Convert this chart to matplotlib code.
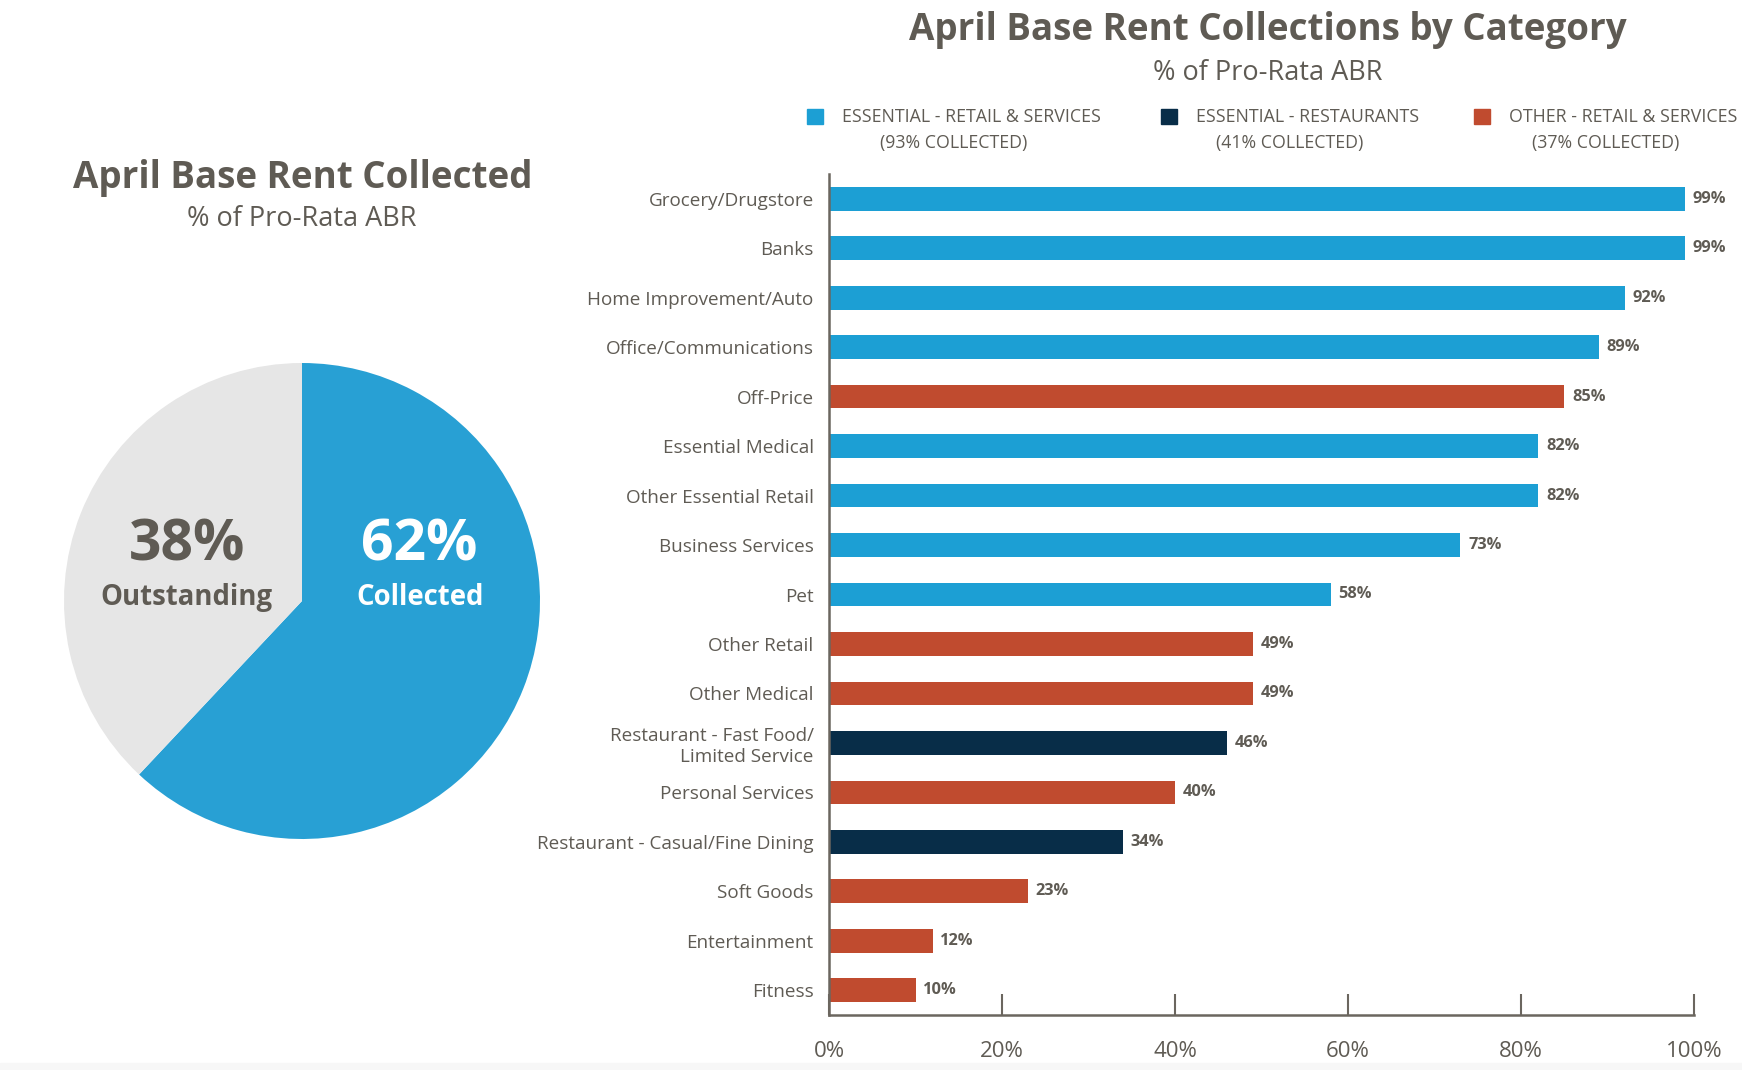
import matplotlib.pyplot as plt
from matplotlib.patches import Rectangle

# data
categories = ["Grocery/Drugstore", "Banks", "Home Improvement/Auto",
              "Office/Communications", "Off-Price", "Essential Medical",
              "Other Essential Retail", "Business Services", "Pet",
              "Other Retail", "Other Medical",
              "Restaurant - Fast Food/\nLimited Service", "Personal Services",
              "Restaurant - Casual/Fine Dining", "Soft Goods", "Entertainment",
              "Fitness"]
values = [99, 99, 92, 89, 85, 82, 82, 73, 58, 49, 49, 46, 40, 34, 23, 12, 10]
groups = [0, 0, 0, 0, 2, 0, 0, 0, 0, 2, 2, 1, 2, 1, 2, 2, 2]
group_names = ["ESSENTIAL - RETAIL & SERVICES", "ESSENTIAL - RESTAURANTS",
               "OTHER - RETAIL & SERVICES"]
group_collected = [93, 41, 37]
pie_labels = ["Collected", "Outstanding"]
pie_values = [62, 38]
x_ticks = [0, 20, 40, 60, 80, 100]

# styles
TXT = "#5f5b54"
group_colors = ["#1c9fd4", "#082d48", "#c04b2f"]
pie_colors = ["#28a0d4", "#e6e6e6"]
W, H = 1742, 1070

plt.rcParams["font.family"] = ["Open Sans", "DejaVu Sans"]
fig = plt.figure(figsize=(W / 100, H / 100), dpi=100)
fig.patches.append(Rectangle((0, 0), 1, 7 / H, transform=fig.transFigure,
                             color="#f7f7f7", zorder=0))

# ---- pie ----
cx, cy, r = 302, 601, 240
axp = fig.add_axes([(cx - r) / W, 1 - (cy + r) / H, 2 * r / W, 2 * r / H])
axp.pie(pie_values, colors=pie_colors, startangle=90, counterclock=False,
        radius=238 / 240, wedgeprops=dict(linewidth=0))
axp.set_xlim(-1, 1)
axp.set_ylim(-1, 1)
axp.set_aspect("equal")
axp.axis("off")
for (px, lab, val, col) in [(0.49, pie_labels[0], pie_values[0], "white"),
                            (-0.48, pie_labels[1], pie_values[1], TXT)]:
    axp.text(px, 0.23, f"{val}%", ha="center", va="center", color=col,
             fontsize=41, fontweight="bold")
    axp.text(px, 0.015, lab, ha="center", va="center", color=col,
             fontsize=19.8, fontweight="bold")

fig.text(303 / W, 1 - 178 / H, "April Base Rent Collected", ha="center",
         va="center", fontsize=26.5, fontweight="bold", color=TXT)
fig.text(302 / W, 1 - 219 / H, "% of Pro-Rata ABR", ha="center",
         va="center", fontsize=19.5, color=TXT)

# ---- bars ----
ax = fig.add_axes([829 / W, 1 - 1015 / H, 865 / W, (1015 - 174) / H])
ypos = list(range(len(categories)))
bars = ax.barh(ypos, values, height=0.48,
               color=[group_colors[g] for g in groups])
ax.bar_label(bars, labels=[f"{v}%" for v in values], padding=5.5,
             fontsize=11.8, fontweight="bold", color=TXT)
ax.set_ylim(len(categories) - 0.5, -0.5)
ax.set_xlim(0, 100)
ax.set_yticks(ypos)
ax.set_yticklabels(categories, fontsize=13.6, color=TXT, linespacing=1.2)
ax.set_xticks(x_ticks)
ax.set_xticklabels([f"{t}%" for t in x_ticks], fontsize=16, color=TXT)
ax.tick_params(axis="y", length=0, pad=11)
ax.tick_params(axis="x", direction="in", length=15, width=1.5,
               color="#6b665f", pad=19)
for s in ["top", "right"]:
    ax.spines[s].set_visible(False)
for s in ["left", "bottom"]:
    ax.spines[s].set_color("#6b665f")
    ax.spines[s].set_linewidth(1.8)

fig.text(1268 / W, 1 - 30 / H, "April Base Rent Collections by Category",
         ha="center", va="center", fontsize=26.5, fontweight="bold", color=TXT)
fig.text(1268 / W, 1 - 73 / H, "% of Pro-Rata ABR", ha="center",
         va="center", fontsize=19.5, color=TXT)

# ---- legend ----
fig.canvas.draw()
renderer = fig.canvas.get_renderer()
for sx, name, pct, col in zip([807, 1161, 1474], group_names,
                              group_collected, group_colors):
    fig.patches.append(Rectangle((sx / W, 1 - 124 / H), 16 / W, 15 / H,
                                 transform=fig.transFigure, color=col))
    t = fig.text((sx + 35) / W, 1 - 117 / H, name, ha="left", va="center",
                 fontsize=12.8, color=TXT)
    right = t.get_window_extent(renderer).x1
    fig.text((sx + right) / 2 / W, 1 - 143 / H, f"({pct}% COLLECTED)",
             ha="center", va="center", fontsize=12.8, color=TXT)

fig.savefig("out.png", dpi=100)
